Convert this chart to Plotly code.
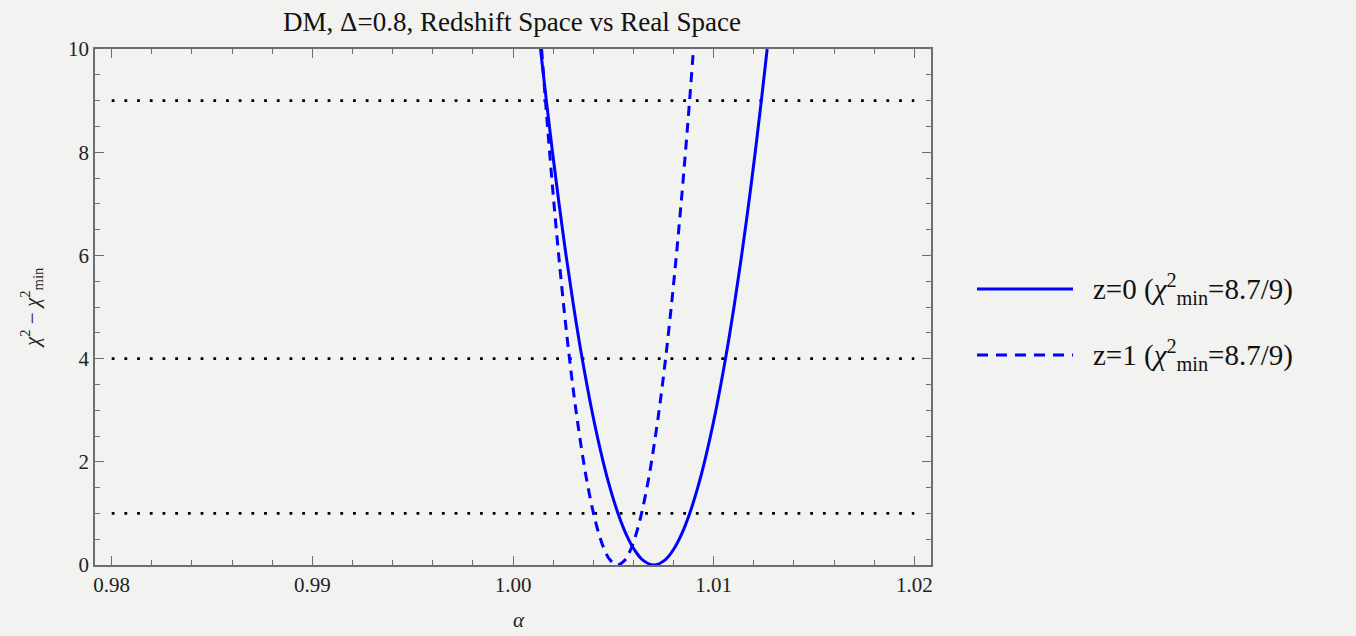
import plotly.graph_objects as go

# ---- data ----
chi_levels = [10, 9, 8, 7, 6, 5, 4, 3, 2, 1.5, 1, 0.6, 0.3, 0.1, 0,
              0.1, 0.3, 0.6, 1, 1.5, 2, 3, 4, 5, 6, 7, 8, 9, 10]
alpha_z0 = [1.001372, 1.001662, 1.001968, 1.002295, 1.002645, 1.003026, 1.003448, 1.003927,
            1.004494, 1.004833, 1.005234, 1.005637, 1.006042, 1.006455, 1.007020,
            1.007585, 1.007998, 1.008403, 1.008806, 1.009207, 1.009546, 1.010113, 1.010592,
            1.011014, 1.011395, 1.011745, 1.012072, 1.012378, 1.012668]
alpha_z1 = [1.001425, 1.001619, 1.001824, 1.002043, 1.002278, 1.002533, 1.002816, 1.003137,
            1.003517, 1.003744, 1.004013, 1.004283, 1.004554, 1.004831, 1.005210,
            1.005589, 1.005866, 1.006137, 1.006407, 1.006676, 1.006903, 1.007283, 1.007604,
            1.007887, 1.008142, 1.008377, 1.008596, 1.008801, 1.008995]
conf_levels = [1, 4, 9]
conf_x = [0.98, 1.02]
series_names = ["z=0 (<i>χ</i><sup>2</sup><sub>min</sub>=8.7/9)",
                "z=1 (<i>χ</i><sup>2</sup><sub>min</sub>=8.7/9)"]
title_text = "DM, Δ=0.8, Redshift Space vs Real Space"

FONT = "Liberation Serif, Times New Roman, serif"
BG = "#f2f2f0"
AX = "#6e6e6e"
BLUE = "#0000ff"

fig = go.Figure()

for lv in conf_levels:
    fig.add_trace(go.Scatter(x=conf_x, y=[lv, lv], mode="lines",
                             line=dict(color="black", width=2.8, dash="2.8px,9.9px"),
                             showlegend=False, hoverinfo="skip"))

fig.add_trace(go.Scatter(x=alpha_z0, y=chi_levels, mode="lines",
                         line=dict(color=BLUE, width=3, shape="spline", smoothing=1),
                         name=series_names[0], showlegend=False))
fig.add_trace(go.Scatter(x=alpha_z1, y=chi_levels, mode="lines",
                         line=dict(color=BLUE, width=3, shape="spline", smoothing=1, dash="10px,7px"),
                         name=series_names[1], showlegend=False))

axis_common = dict(showline=True, linecolor=AX, linewidth=1.5, mirror="allticks",
                   ticks="inside", tickcolor=AX, tickwidth=1.2, ticklen=9,
                   showgrid=False, zeroline=False,
                   tickfont=dict(family=FONT, size=21, color="#222"))

fig.update_xaxes(range=[0.979167, 1.020833], tick0=0.98, dtick=0.01, tickformat=".2f",
                 minor=dict(ticks="inside", dtick=0.002, ticklen=5, tickcolor=AX, tickwidth=1.2),
                 **axis_common)
fig.update_yaxes(range=[0, 10], tick0=0, dtick=2,
                 minor=dict(ticks="inside", dtick=0.5, ticklen=5, tickcolor=AX, tickwidth=1.2),
                 **axis_common)

# manual legend
L = 95; W = 836; B = 565; H = 516
def px(x): return (x - L) / W
def py(y): return (B - y) / H

for i, (yy, dash) in enumerate([(289, "solid"), (355, "11px,8px")]):
    fig.add_shape(type="line", xref="paper", yref="paper", x0=px(977), x1=px(1073),
                  y0=py(yy), y1=py(yy), line=dict(color=BLUE, width=3, dash=dash))
    fig.add_annotation(xref="paper", yref="paper", x=px(1091), y=py(yy), xanchor="left",
                       yanchor="middle", text=series_names[i], showarrow=False,
                       font=dict(family=FONT, size=29, color="#111"))

fig.add_annotation(xref="paper", yref="paper", x=px(31), y=py(308), textangle=-90,
                   text="<i>χ</i><sup>2</sup> − <i>χ</i><sup>2</sup><sub>min</sub>",
                   showarrow=False, xanchor="center", yanchor="middle",
                   font=dict(family=FONT, size=21, color="#222"))
fig.add_annotation(xref="paper", yref="paper", x=px(519), y=py(620), text="<i>α</i>",
                   showarrow=False, xanchor="center", yanchor="middle",
                   font=dict(family=FONT, size=21, color="#222"))

fig.update_layout(
    width=1356, height=636,
    margin=dict(l=95, r=1356 - 931, t=49, b=636 - 565),
    paper_bgcolor=BG, plot_bgcolor=BG,
    title=dict(text=title_text, x=px(512), xref="paper", xanchor="center",
               y=1 - 22 / 636, yref="container", yanchor="middle",
               font=dict(family=FONT, size=27, color="#111")),
    showlegend=False,
)

fig.write_html("out.html")
